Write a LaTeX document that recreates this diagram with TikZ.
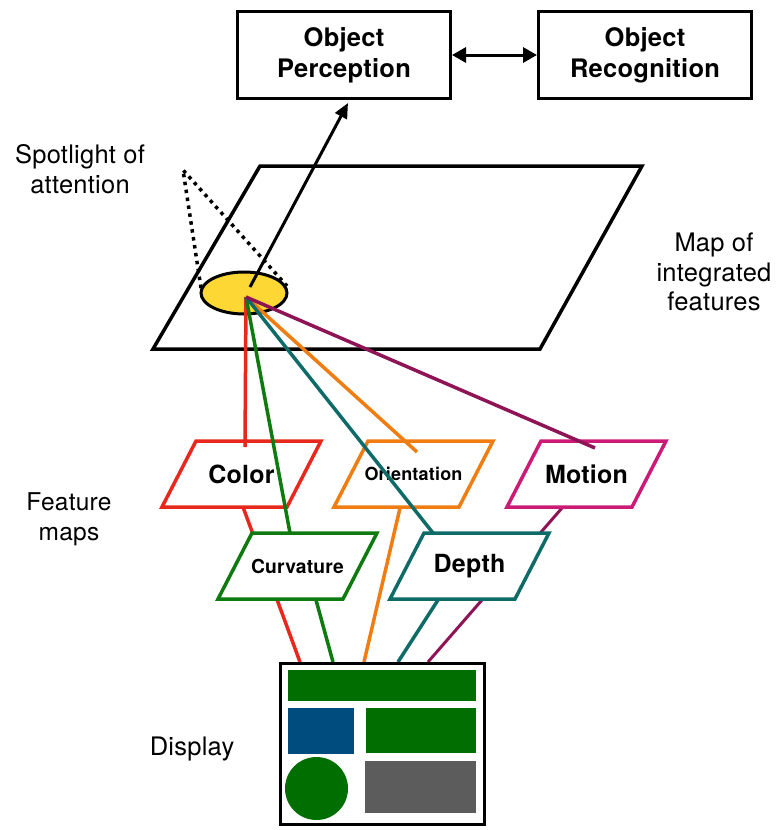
\documentclass[tikz,border=0pt]{standalone}
\usepackage{fontspec}
\setmainfont{TeX Gyre Heros}[LetterSpace=1]
\usetikzlibrary{arrows.meta,shapes.geometric}

% colours
\definecolor{cRed}{HTML}{E8281C}
\definecolor{cGreen}{HTML}{0F7A0F}
\definecolor{cOrange}{HTML}{EF7D11}
\definecolor{cTeal}{HTML}{0E6B68}
\definecolor{cPlum}{HTML}{8E1456}
\definecolor{cMagenta}{HTML}{CC1B76}
\definecolor{cYellow}{HTML}{FDD835}
\definecolor{dGreen}{HTML}{006E00}
\definecolor{dBlue}{HTML}{004C7E}
\definecolor{dGray}{HTML}{5C5C5C}

\tikzset{
  stagebox/.style={draw=black, line width=3pt, minimum width=213pt, minimum height=87pt,
    align=center, font=\bfseries\fontsize{25.5}{31}\selectfont},
  plainlabel/.style={align=center, font=\fontsize{25.5}{29.5}\selectfont},
  mapedge/.style={line width=3.5pt, line join=miter},
  featlabel/.style={font=\bfseries\fontsize{25}{28}\selectfont},
  wire/.style={line width=3.5pt},
  blackarrow/.style={line width=3pt, -{Triangle[length=15pt,width=13pt]}},
  spotline/.style={line width=3.5pt, dash pattern=on 3.5pt off 4.5pt},
}

% feature map: parallelogram with top-left corner (#3,#4), width 125, height 66, slant 34
\newcommand{\featuremap}[6]{%
  \draw[mapedge, draw=#2, #6] (#3,#4) -- ++(125,0) -- ++(-34,66) -- ++(-125,0) -- cycle;
  \node[featlabel] (#1) at ({#3+45.5},{#4+33}) {#5};
}

\begin{document}
\begin{tikzpicture}[x=1pt,y=-1pt]
\useasboundingbox (0,0) rectangle (782,830);

% top stage boxes
\node[stagebox] (perc) at (344,55) {Object\\Perception};
\node[stagebox] (recog) at (645,55) {Object\\Recognition};
\draw[line width=3pt, {Triangle[length=14pt,width=15pt]}-{Triangle[length=14pt,width=15pt]}]
  (perc.east) -- (recog.west);

% map of integrated features
\draw[line width=3.5pt, line join=miter] (260,166) -- (642,166) -- (540,349) -- (153,349) -- cycle;

% connector end points
\coordinate (focus) at (246,297);
\coordinate (start) at (250,287);
\coordinate (tip) at (348,103);
\coordinate (colorT) at (245,447);
\coordinate (curvT) at (290,533);
\coordinate (orientT) at (417,452);
\coordinate (depthT) at (433,533);
\coordinate (motionT) at (595,448);
\coordinate (colorB) at (243,507);
\coordinate (curvB) at (316,600);
\coordinate (orientB) at (400,508);
\coordinate (depthB) at (438,600);
\coordinate (motionB) at (562,508);
\coordinate (dispR) at (300,662);
\coordinate (dispG) at (333,662);
\coordinate (dispO) at (364,662);
\coordinate (dispT) at (398,662);
\coordinate (dispP) at (428,662);

% from the display to the feature maps (partly hidden behind the lower maps)
\draw[wire, cRed] (colorB) -- (dispR);
\draw[wire, cGreen] (curvB) -- (dispG);
\draw[wire, cOrange] (orientB) -- (dispO);
\draw[wire, cTeal] (depthB) -- (dispT);
\draw[wire, cPlum, line width=3pt] (motionB) -- (dispP);

% feature maps
\featuremap{color}{cRed}{196}{441}{Color}{}
\featuremap{orient}{cOrange}{368}{441}{\fontsize{18}{21}\selectfont Orientation}{}
\featuremap{motion}{cMagenta}{541}{441}{Motion}{}
\featuremap{curv}{cGreen}{252}{533}{\fontsize{19.3}{22}\selectfont Curvature}{fill=white}
\featuremap{depth}{cTeal}{424}{533}{Depth}{fill=white}

% display
\node[draw=black, line width=3.5pt, minimum width=204pt, minimum height=161pt, inner sep=0pt]
  (display) at (382.5,744) {};
\fill[dGreen] (288,670) rectangle (476,701);
\fill[dBlue] (288,708) rectangle (354,754);
\fill[dGreen] (366,708) rectangle (476,753);
\fill[dGreen] (316.5,788.5) circle (31.5);
\fill[dGray] (365,761) rectangle (476,813);

% spotlight of attention
\node[draw=black, line width=3pt, fill=cYellow, ellipse, minimum width=86pt, minimum height=42pt,
  inner sep=0pt] (spot) at (244,293) {};
\coordinate (apex) at (183,170);
\coordinate (spotL) at (201,288);
\coordinate (spotR) at (287,286);
\draw[spotline] (spotL) -- (apex) -- (spotR);

% from feature maps to the master map
\draw[wire, cRed] (focus) -- (colorT);
\draw[wire, cGreen] (focus) -- (curvT);
\draw[wire, cOrange] (focus) -- (orientT);
\draw[wire, cTeal] (focus) -- (depthT);
\draw[wire, cPlum] (focus) -- (motionT);

% to object perception
\draw[blackarrow] (start) -- (tip);

% labels
\node[plainlabel] (spotText) at (80,169) {Spotlight of\\attention};
\node[plainlabel] (mapText) at (714,272) {Map of\\integrated\\features};
\node[plainlabel, font=\fontsize{24.5}{29.5}\selectfont] (featText) at (69,519) {Feature\\maps};
\node[plainlabel] (dispText) at (192,749) {Display};
\end{tikzpicture}
\end{document}
